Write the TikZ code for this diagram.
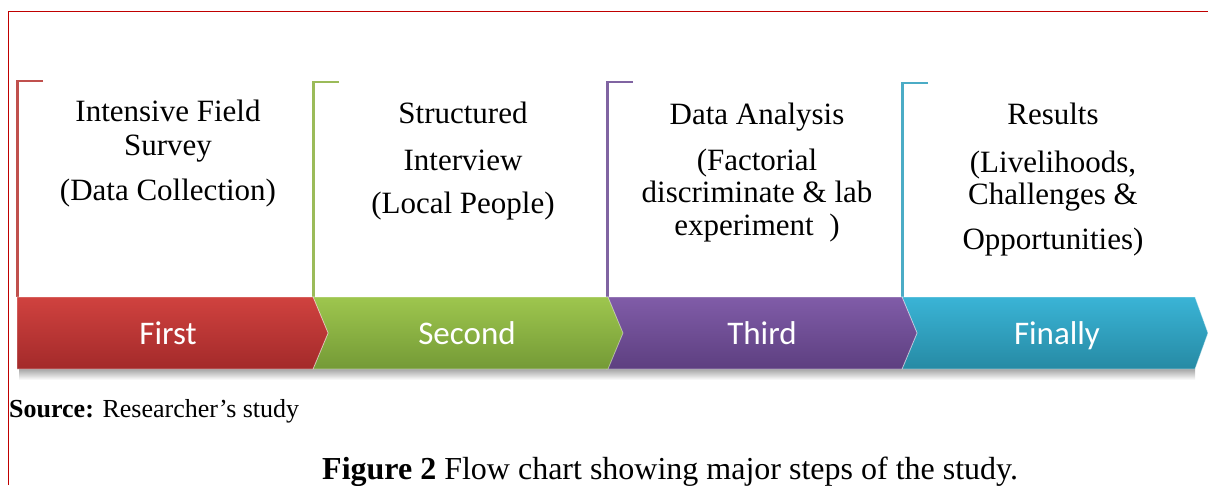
\documentclass[tikz,border=0pt]{standalone}
\usepackage{fontspec}
\setmainfont{Liberation Serif}
\newfontfamily\calibri{Carlito}
\definecolor{framered}{RGB}{192,0,0}
% bracket (outline) colours
\definecolor{lnred}{RGB}{192,80,77}
\definecolor{lngreen}{RGB}{155,187,89}
\definecolor{lnpurple}{RGB}{128,100,162}
\definecolor{lncyan}{RGB}{75,172,198}
% arrow gradients
\definecolor{redtop}{RGB}{208,66,63}
\definecolor{redbot}{RGB}{163,42,42}
\definecolor{greentop}{RGB}{158,198,78}
\definecolor{greenbot}{RGB}{116,154,54}
\definecolor{purpletop}{RGB}{128,92,168}
\definecolor{purplebot}{RGB}{93,63,128}
\definecolor{cyantop}{RGB}{58,180,214}
\definecolor{cyanbot}{RGB}{38,138,164}
\begin{document}
\begin{tikzpicture}[x=1pt,y=-1pt,
  bracket/.style={line width=2.2pt},
  blocktext/.style={anchor=north,align=center,inner sep=0pt,
    font=\fontsize{31}{32}\selectfont},
  steplabel/.style={text=white,inner sep=0pt,anchor=base,
    font=\calibri\fontsize{33}{36}\selectfont},
  arrowedge/.style={draw=white,draw opacity=0.45,line width=0.8pt}]
\useasboundingbox (0,0) rectangle (1208,485);

% page frame
\draw[framered,line width=1.8pt] (8.5,485) -- (8.5,11.5) -- (1208,11.5);

% shadow below the arrow band
\shade[top color=black!35,bottom color=white] (19,369) rectangle (1195,380);

% open brackets above each stage
\draw[bracket,lnred]    (43,81) -- (17.5,81) -- (17.5,297);
\draw[bracket,lngreen]  (339,82) -- (313.5,82) -- (313.5,297);
\draw[bracket,lnpurple] (633,82) -- (607.5,82) -- (607.5,297);
\draw[bracket,lncyan]   (928,83) -- (902.5,83) -- (902.5,297);

% arrow band
\shade[top color=cyantop,bottom color=cyanbot]
  (902,297) -- (1195,297) -- (1208,333) -- (1195,369) -- (902,369) -- (917,333) -- cycle;
\draw[arrowedge]
  (902,297) -- (1195,297) -- (1208,333) -- (1195,369) -- (902,369) -- (917,333) -- cycle;
\shade[top color=purpletop,bottom color=purplebot]
  (607,297) -- (902,297) -- (917,333) -- (902,369) -- (607,369) -- (622,333) -- cycle;
\draw[arrowedge]
  (607,297) -- (902,297) -- (917,333) -- (902,369) -- (607,369) -- (622,333) -- cycle;
\shade[top color=greentop,bottom color=greenbot]
  (313,297) -- (608,297) -- (623,333) -- (608,369) -- (313,369) -- (328,333) -- cycle;
\draw[arrowedge]
  (313,297) -- (608,297) -- (623,333) -- (608,369) -- (313,369) -- (328,333) -- cycle;
\shade[top color=redtop,bottom color=redbot]
  (17,297) -- (313,297) -- (328,333) -- (313,369) -- (17,369) -- cycle;
\draw[arrowedge]
  (17,297) -- (313,297) -- (328,333) -- (313,369) -- (17,369) -- cycle;

% stage labels
\node[steplabel] (first)   at (168,344)  {First};
\node[steplabel] (second)  at (467,344)  {Second};
\node[steplabel] (third)   at (762,344)  {Third};
\node[steplabel] (finally) at (1057,344) {Finally};

% stage descriptions
\node[blocktext] (survey) at (168,100)
  {Intensive Field\\[2pt]Survey\\[13pt](Data Collection)};
\node[blocktext] (interview) at (463,102)
  {Structured\\[15pt]Interview\\[11pt](Local People)};
\node[blocktext] (analysis) at (757,103)
  {Data Analysis\\[14pt](Factorial\\discriminate \& lab\\[1pt]experiment\ \ )};
\node[blocktext] (results) at (1053,103)
  {Results\\[16pt](Livelihoods,\\Challenges \&\\[13pt]Opportunities)};

% source note and caption
\node[anchor=base west,inner sep=0pt,font=\fontsize{26}{30}\selectfont]
  (source) at (9,417) {\textbf{Source:} Researcher’s study};
\node[anchor=base west,inner sep=0pt,font=\fontsize{32}{36}\selectfont]
  (caption) at (322,479) {\textbf{Figure 2} Flow chart showing major steps of the study.};
\end{tikzpicture}
\end{document}
